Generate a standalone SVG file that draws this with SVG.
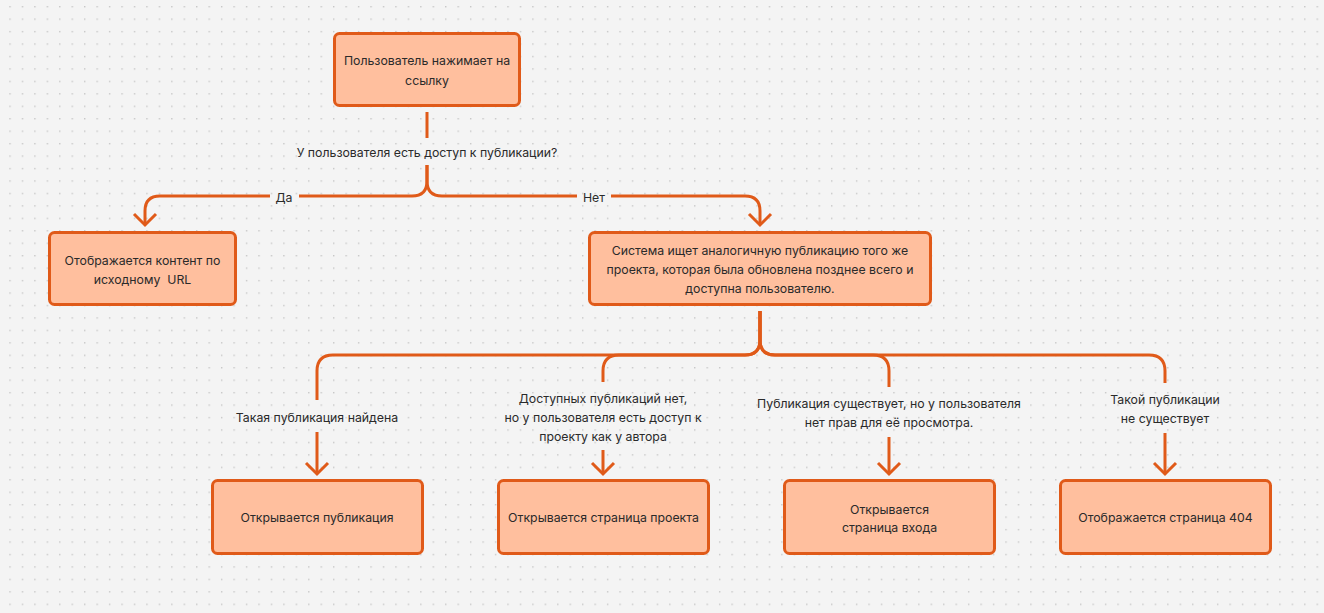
<svg xmlns="http://www.w3.org/2000/svg" width="1324" height="613" viewBox="0 0 1324 613">
<style>
.node rect{fill:#FFBF9E;stroke:#E05A19;stroke-width:3}
text{font-family:Inter,"Noto Sans","Liberation Sans",sans-serif;font-size:12.3px;fill:#2a2a2a;text-anchor:middle}
.conn path{fill:none;stroke:#E05A19;stroke-width:3}
.arr{marker-end:url(#ah)}
</style>
<defs>
<pattern id="grid" patternUnits="userSpaceOnUse" x="9.3" y="6" width="12.45" height="12.45">
<rect x="0" y="0" width="1.4" height="1.4" fill="#c6c6c6"/>
</pattern>
<marker id="ah" markerUnits="userSpaceOnUse" orient="auto" refX="0" refY="0" markerWidth="30" markerHeight="30" viewBox="-15 -15 30 30" overflow="visible">
<path d="M-11,-11 L0,0 L-11,11" fill="none" stroke="#E05A19" stroke-width="3"/>
</marker>
</defs>
<rect width="1324" height="613" fill="#F4F4F4"/>
<rect width="1324" height="613" fill="url(#grid)"/>

<g class="conn" id="connectors">
<path d="M427,112 V138"/>
<path d="M427,165 V181 Q427,196 412,196 H299"/>
<path class="arr" d="M270,196 H160 Q145,196 145,211 V225"/>
<path d="M427,165 V181 Q427,196 442,196 H577"/>
<path class="arr" d="M611,196 H745 Q760,196 760,211 V225"/>
<path d="M760,311 V340 Q760,355 745,355 H333 Q317,355 317,371 V400"/>
<path class="arr" d="M317,432 V474"/>
<path d="M760,311 V340 Q760,355 745,355 H619 Q603,355 603,371 V382"/>
<path class="arr" d="M603,450 V474"/>
<path d="M760,311 V340 Q760,355 775,355 H873 Q889,355 889,371 V387"/>
<path class="arr" d="M889,437 V474"/>
<path d="M760,311 V340 Q760,355 775,355 H1149 Q1165,355 1165,371 V383"/>
<path class="arr" d="M1165,433 V474"/>
</g>

<g id="labels">
<text x="427" y="156.5">У пользователя есть доступ к публикации?</text>
<text x="284" y="201.5">Да</text>
<text x="594" y="201.5">Нет</text>
<text x="317" y="421.5">Такая публикация найдена</text>
<text x="603" y="402.5">Доступных публикаций нет,</text>
<text x="603" y="421.5">но у пользователя есть доступ к</text>
<text x="603" y="440.5">проекту как у автора</text>
<text x="889" y="407.5">Публикация существует, но у пользователя</text>
<text x="889" y="426.5">нет прав для её просмотра.</text>
<text x="1165" y="403.5">Такой публикации</text>
<text x="1165" y="422.5">не существует</text>
</g>

<g class="node" id="n-click">
<rect x="334.5" y="33.5" width="185" height="72" rx="5"/>
<text x="427" y="64.5">Пользователь нажимает на</text>
<text x="427" y="84.5">ссылку</text>
</g>
<g class="node" id="n-content">
<rect x="49.5" y="232.5" width="186" height="72" rx="5"/>
<text x="142.5" y="264.5">Отображается контент по</text>
<text x="142.5" y="283.5" style="white-space:pre">исходному  URL</text>
</g>
<g class="node" id="n-search">
<rect x="589.5" y="232.5" width="341" height="72" rx="5"/>
<text x="760" y="254.5">Система ищет аналогичную публикацию того же</text>
<text x="760" y="273.5">проекта, которая была обновлена позднее всего и</text>
<text x="760" y="292.5">доступна пользователю.</text>
</g>
<g class="node" id="n-pub">
<rect x="212.5" y="480.5" width="210" height="73" rx="5"/>
<text x="317" y="521.5">Открывается публикация</text>
</g>
<g class="node" id="n-project">
<rect x="498.5" y="480.5" width="210" height="73" rx="5"/>
<text x="603.5" y="521.5">Открывается страница проекта</text>
</g>
<g class="node" id="n-login">
<rect x="784.5" y="480.5" width="210" height="73" rx="5"/>
<text x="889.5" y="513.5">Открывается</text>
<text x="889.5" y="531.5">страница входа</text>
</g>
<g class="node" id="n-404">
<rect x="1060.5" y="480.5" width="210" height="73" rx="5"/>
<text x="1165.5" y="521.5">Отображается страница 404</text>
</g>
</svg>
